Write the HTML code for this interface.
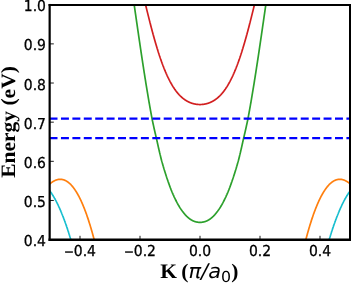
<!DOCTYPE html>
<html><head><meta charset="utf-8"><title>Band structure</title>
<style>
html,body{margin:0;padding:0;background:#fff;}
svg{display:block;}
text{text-rendering:geometricPrecision;}
.t{font-family:"DejaVu Sans","Liberation Sans",sans-serif;font-size:15.0px;fill:#000;stroke:#000;stroke-width:0.3px;}
.lab{font-family:"Liberation Serif","Times New Roman",serif;font-weight:bold;fill:#000;}
.m{font-family:"DejaVu Sans","Liberation Sans",sans-serif;font-style:italic;font-weight:normal;}
</style></head><body>
<svg width="351" height="283" viewBox="0 0 351 283">
<rect x="0" y="0" width="351" height="283" fill="#ffffff"/>
<defs><clipPath id="ax"><rect x="50.0" y="4.75" width="300.0" height="234.85"/></clipPath></defs>
<g clip-path="url(#ax)" fill="none" stroke-linejoin="round">
<path d="M144.50,0.38 L144.62,0.90 L144.75,1.41 L144.88,1.93 L145.00,2.44 L145.12,2.96 L145.25,3.47 L145.38,3.98 L145.50,4.50 L145.62,5.01 L145.75,5.52 L145.88,6.04 L146.00,6.55 L146.12,7.06 L146.25,7.57 L146.38,8.08 L146.50,8.59 L146.62,9.10 L146.75,9.61 L146.88,10.12 L147.00,10.62 L147.12,11.13 L147.25,11.64 L147.38,12.14 L147.50,12.65 L147.62,13.15 L147.75,13.66 L147.88,14.16 L148.00,14.66 L148.12,15.16 L148.25,15.66 L148.38,16.16 L148.50,16.66 L148.62,17.16 L148.75,17.66 L148.88,18.15 L149.00,18.65 L149.12,19.14 L149.25,19.64 L149.38,20.13 L149.50,20.62 L149.62,21.11 L149.75,21.60 L149.88,22.09 L150.00,22.58 L150.12,23.07 L150.25,23.55 L150.38,24.04 L150.50,24.52 L150.62,25.00 L150.75,25.48 L150.88,25.96 L151.00,26.44 L151.12,26.92 L151.25,27.40 L151.38,27.87 L151.50,28.35 L151.62,28.82 L151.75,29.29 L151.88,29.76 L152.00,30.23 L152.12,30.70 L152.25,31.17 L152.38,31.63 L152.50,32.10 L152.62,32.56 L152.75,33.02 L152.88,33.48 L153.00,33.94 L153.12,34.40 L153.25,34.85 L153.38,35.31 L153.50,35.76 L153.62,36.21 L153.75,36.66 L153.88,37.11 L154.00,37.56 L154.12,38.00 L154.25,38.45 L154.38,38.89 L154.50,39.33 L154.62,39.77 L154.75,40.21 L154.88,40.65 L155.00,41.09 L155.12,41.52 L155.25,41.95 L155.38,42.39 L155.50,42.82 L155.62,43.24 L155.75,43.67 L155.88,44.10 L156.00,44.52 L156.12,44.94 L156.25,45.36 L156.38,45.78 L156.50,46.20 L156.62,46.61 L156.75,47.03 L156.88,47.44 L157.00,47.85 L157.12,48.26 L157.25,48.67 L157.38,49.07 L157.50,49.48 L157.62,49.88 L157.75,50.28 L157.88,50.68 L158.00,51.08 L158.12,51.48 L158.25,51.87 L158.38,52.26 L158.50,52.65 L158.62,53.04 L158.75,53.43 L158.88,53.82 L159.00,54.20 L159.12,54.59 L159.25,54.97 L159.38,55.35 L159.50,55.72 L159.62,56.10 L159.75,56.48 L159.88,56.85 L160.00,57.22 L160.12,57.59 L160.25,57.96 L160.38,58.32 L160.50,58.69 L160.62,59.05 L160.75,59.41 L160.88,59.77 L161.00,60.13 L161.12,60.48 L161.25,60.84 L161.38,61.19 L161.50,61.54 L161.62,61.89 L161.75,62.23 L161.88,62.58 L162.00,62.92 L162.12,63.27 L162.25,63.61 L162.38,63.94 L162.50,64.28 L162.62,64.62 L162.75,64.95 L162.88,65.28 L163.00,65.61 L163.12,65.94 L163.25,66.27 L163.38,66.59 L163.50,66.91 L163.62,67.23 L163.75,67.55 L163.88,67.87 L164.00,68.19 L164.12,68.50 L164.25,68.81 L164.38,69.13 L164.50,69.44 L164.62,69.74 L164.75,70.05 L164.88,70.35 L165.00,70.66 L165.12,70.96 L165.25,71.26 L165.38,71.55 L165.50,71.85 L165.62,72.14 L165.75,72.43 L165.88,72.72 L166.00,73.01 L166.12,73.30 L166.25,73.59 L166.38,73.87 L166.50,74.15 L166.62,74.43 L166.75,74.71 L166.88,74.99 L167.00,75.26 L167.12,75.54 L167.25,75.81 L167.38,76.08 L167.50,76.35 L167.62,76.62 L167.75,76.88 L167.88,77.15 L168.00,77.41 L168.12,77.67 L168.25,77.93 L168.38,78.19 L168.50,78.44 L168.62,78.70 L168.75,78.95 L168.88,79.20 L169.00,79.45 L169.12,79.70 L169.25,79.94 L169.38,80.19 L169.50,80.43 L169.62,80.67 L169.75,80.91 L169.88,81.15 L170.00,81.39 L170.12,81.62 L170.25,81.85 L170.38,82.09 L170.50,82.32 L170.62,82.54 L170.75,82.77 L170.88,83.00 L171.00,83.22 L171.12,83.44 L171.25,83.67 L171.38,83.88 L171.50,84.10 L171.62,84.32 L171.75,84.53 L171.88,84.75 L172.00,84.96 L172.12,85.17 L172.25,85.38 L172.38,85.59 L172.50,85.79 L172.62,86.00 L172.75,86.20 L172.88,86.40 L173.00,86.60 L173.12,86.80 L173.25,87.00 L173.38,87.19 L173.50,87.39 L173.62,87.58 L173.75,87.77 L173.88,87.96 L174.00,88.15 L174.12,88.34 L174.25,88.52 L174.38,88.71 L174.50,88.89 L174.62,89.07 L174.75,89.25 L174.88,89.43 L175.00,89.61 L175.12,89.78 L175.25,89.96 L175.38,90.13 L175.50,90.30 L175.62,90.47 L175.75,90.64 L175.88,90.81 L176.00,90.98 L176.12,91.14 L176.25,91.31 L176.38,91.47 L176.50,91.63 L176.62,91.79 L176.75,91.95 L176.88,92.11 L177.00,92.26 L177.12,92.42 L177.25,92.57 L177.38,92.72 L177.50,92.87 L177.62,93.02 L177.75,93.17 L177.88,93.32 L178.00,93.46 L178.12,93.61 L178.25,93.75 L178.38,93.90 L178.50,94.04 L178.62,94.18 L178.75,94.32 L178.88,94.45 L179.00,94.59 L179.12,94.72 L179.25,94.86 L179.38,94.99 L179.50,95.12 L179.62,95.25 L179.75,95.38 L179.88,95.51 L180.00,95.64 L180.12,95.76 L180.25,95.89 L180.38,96.01 L180.50,96.13 L180.62,96.25 L180.75,96.37 L180.88,96.49 L181.00,96.61 L181.12,96.73 L181.25,96.84 L181.38,96.96 L181.50,97.07 L181.62,97.18 L181.75,97.30 L181.88,97.41 L182.00,97.52 L182.12,97.62 L182.25,97.73 L182.38,97.84 L182.50,97.94 L182.62,98.05 L182.75,98.15 L182.88,98.25 L183.00,98.35 L183.12,98.45 L183.25,98.55 L183.38,98.65 L183.50,98.75 L183.62,98.84 L183.75,98.94 L183.88,99.03 L184.00,99.12 L184.12,99.22 L184.25,99.31 L184.38,99.40 L184.50,99.49 L184.62,99.58 L184.75,99.66 L184.88,99.75 L185.00,99.84 L185.12,99.92 L185.25,100.00 L185.38,100.09 L185.50,100.17 L185.62,100.25 L185.75,100.33 L185.88,100.41 L186.00,100.49 L186.12,100.56 L186.25,100.64 L186.38,100.72 L186.50,100.79 L186.62,100.86 L186.75,100.94 L186.88,101.01 L187.00,101.08 L187.12,101.15 L187.25,101.22 L187.38,101.29 L187.50,101.36 L187.62,101.42 L187.75,101.49 L187.88,101.56 L188.00,101.62 L188.12,101.68 L188.25,101.75 L188.38,101.81 L188.50,101.87 L188.62,101.93 L188.75,101.99 L188.88,102.05 L189.00,102.11 L189.12,102.17 L189.25,102.22 L189.38,102.28 L189.50,102.33 L189.62,102.39 L189.75,102.44 L189.88,102.50 L190.00,102.55 L190.12,102.60 L190.25,102.65 L190.38,102.70 L190.50,102.75 L190.62,102.80 L190.75,102.84 L190.88,102.89 L191.00,102.94 L191.12,102.98 L191.25,103.03 L191.38,103.07 L191.50,103.12 L191.62,103.16 L191.75,103.20 L191.88,103.24 L192.00,103.28 L192.12,103.32 L192.25,103.36 L192.38,103.40 L192.50,103.44 L192.62,103.47 L192.75,103.51 L192.88,103.55 L193.00,103.58 L193.12,103.62 L193.25,103.65 L193.38,103.68 L193.50,103.72 L193.62,103.75 L193.75,103.78 L193.88,103.81 L194.00,103.84 L194.12,103.87 L194.25,103.90 L194.38,103.92 L194.50,103.95 L194.62,103.98 L194.75,104.00 L194.88,104.03 L195.00,104.05 L195.12,104.08 L195.25,104.10 L195.38,104.12 L195.50,104.15 L195.62,104.17 L195.75,104.19 L195.88,104.21 L196.00,104.23 L196.12,104.25 L196.25,104.26 L196.38,104.28 L196.50,104.30 L196.62,104.32 L196.75,104.33 L196.88,104.35 L197.00,104.36 L197.12,104.38 L197.25,104.39 L197.38,104.40 L197.50,104.41 L197.62,104.43 L197.75,104.44 L197.88,104.45 L198.00,104.46 L198.12,104.47 L198.25,104.48 L198.38,104.48 L198.50,104.49 L198.62,104.50 L198.75,104.50 L198.88,104.51 L199.00,104.52 L199.12,104.52 L199.25,104.52 L199.38,104.53 L199.50,104.53 L199.62,104.53 L199.75,104.53 L199.88,104.53 L200.00,104.53 L200.12,104.53 L200.25,104.53 L200.38,104.53 L200.50,104.53 L200.62,104.53 L200.75,104.52 L200.88,104.52 L201.00,104.52 L201.12,104.51 L201.25,104.50 L201.38,104.50 L201.50,104.49 L201.62,104.48 L201.75,104.48 L201.88,104.47 L202.00,104.46 L202.12,104.45 L202.25,104.44 L202.38,104.43 L202.50,104.41 L202.62,104.40 L202.75,104.39 L202.88,104.38 L203.00,104.36 L203.12,104.35 L203.25,104.33 L203.38,104.32 L203.50,104.30 L203.62,104.28 L203.75,104.26 L203.88,104.25 L204.00,104.23 L204.12,104.21 L204.25,104.19 L204.38,104.17 L204.50,104.15 L204.62,104.12 L204.75,104.10 L204.88,104.08 L205.00,104.05 L205.12,104.03 L205.25,104.00 L205.38,103.98 L205.50,103.95 L205.62,103.92 L205.75,103.90 L205.88,103.87 L206.00,103.84 L206.12,103.81 L206.25,103.78 L206.38,103.75 L206.50,103.72 L206.62,103.68 L206.75,103.65 L206.88,103.62 L207.00,103.58 L207.12,103.55 L207.25,103.51 L207.38,103.47 L207.50,103.44 L207.62,103.40 L207.75,103.36 L207.88,103.32 L208.00,103.28 L208.12,103.24 L208.25,103.20 L208.38,103.16 L208.50,103.12 L208.62,103.07 L208.75,103.03 L208.88,102.98 L209.00,102.94 L209.12,102.89 L209.25,102.84 L209.38,102.80 L209.50,102.75 L209.62,102.70 L209.75,102.65 L209.88,102.60 L210.00,102.55 L210.12,102.50 L210.25,102.44 L210.38,102.39 L210.50,102.33 L210.62,102.28 L210.75,102.22 L210.88,102.17 L211.00,102.11 L211.12,102.05 L211.25,101.99 L211.38,101.93 L211.50,101.87 L211.62,101.81 L211.75,101.75 L211.88,101.68 L212.00,101.62 L212.12,101.56 L212.25,101.49 L212.38,101.42 L212.50,101.36 L212.62,101.29 L212.75,101.22 L212.88,101.15 L213.00,101.08 L213.12,101.01 L213.25,100.94 L213.38,100.86 L213.50,100.79 L213.62,100.72 L213.75,100.64 L213.88,100.56 L214.00,100.49 L214.12,100.41 L214.25,100.33 L214.38,100.25 L214.50,100.17 L214.62,100.09 L214.75,100.00 L214.88,99.92 L215.00,99.84 L215.12,99.75 L215.25,99.66 L215.38,99.58 L215.50,99.49 L215.62,99.40 L215.75,99.31 L215.88,99.22 L216.00,99.12 L216.12,99.03 L216.25,98.94 L216.38,98.84 L216.50,98.75 L216.62,98.65 L216.75,98.55 L216.88,98.45 L217.00,98.35 L217.12,98.25 L217.25,98.15 L217.38,98.05 L217.50,97.94 L217.62,97.84 L217.75,97.73 L217.88,97.62 L218.00,97.52 L218.12,97.41 L218.25,97.30 L218.38,97.18 L218.50,97.07 L218.62,96.96 L218.75,96.84 L218.88,96.73 L219.00,96.61 L219.12,96.49 L219.25,96.37 L219.38,96.25 L219.50,96.13 L219.62,96.01 L219.75,95.89 L219.88,95.76 L220.00,95.64 L220.12,95.51 L220.25,95.38 L220.38,95.25 L220.50,95.12 L220.62,94.99 L220.75,94.86 L220.88,94.72 L221.00,94.59 L221.12,94.45 L221.25,94.32 L221.38,94.18 L221.50,94.04 L221.62,93.90 L221.75,93.75 L221.88,93.61 L222.00,93.46 L222.12,93.32 L222.25,93.17 L222.38,93.02 L222.50,92.87 L222.62,92.72 L222.75,92.57 L222.88,92.42 L223.00,92.26 L223.12,92.11 L223.25,91.95 L223.38,91.79 L223.50,91.63 L223.62,91.47 L223.75,91.31 L223.88,91.14 L224.00,90.98 L224.12,90.81 L224.25,90.64 L224.38,90.47 L224.50,90.30 L224.62,90.13 L224.75,89.96 L224.88,89.78 L225.00,89.61 L225.12,89.43 L225.25,89.25 L225.38,89.07 L225.50,88.89 L225.62,88.71 L225.75,88.52 L225.88,88.34 L226.00,88.15 L226.12,87.96 L226.25,87.77 L226.38,87.58 L226.50,87.39 L226.62,87.19 L226.75,87.00 L226.88,86.80 L227.00,86.60 L227.12,86.40 L227.25,86.20 L227.38,86.00 L227.50,85.79 L227.62,85.59 L227.75,85.38 L227.88,85.17 L228.00,84.96 L228.12,84.75 L228.25,84.53 L228.38,84.32 L228.50,84.10 L228.62,83.88 L228.75,83.67 L228.88,83.44 L229.00,83.22 L229.12,83.00 L229.25,82.77 L229.38,82.54 L229.50,82.32 L229.62,82.09 L229.75,81.85 L229.88,81.62 L230.00,81.39 L230.12,81.15 L230.25,80.91 L230.38,80.67 L230.50,80.43 L230.62,80.19 L230.75,79.94 L230.88,79.70 L231.00,79.45 L231.12,79.20 L231.25,78.95 L231.38,78.70 L231.50,78.44 L231.62,78.19 L231.75,77.93 L231.88,77.67 L232.00,77.41 L232.12,77.15 L232.25,76.88 L232.38,76.62 L232.50,76.35 L232.62,76.08 L232.75,75.81 L232.88,75.54 L233.00,75.26 L233.12,74.99 L233.25,74.71 L233.38,74.43 L233.50,74.15 L233.62,73.87 L233.75,73.59 L233.88,73.30 L234.00,73.01 L234.12,72.72 L234.25,72.43 L234.38,72.14 L234.50,71.85 L234.62,71.55 L234.75,71.26 L234.88,70.96 L235.00,70.66 L235.12,70.35 L235.25,70.05 L235.38,69.74 L235.50,69.44 L235.62,69.13 L235.75,68.81 L235.88,68.50 L236.00,68.19 L236.12,67.87 L236.25,67.55 L236.38,67.23 L236.50,66.91 L236.62,66.59 L236.75,66.27 L236.88,65.94 L237.00,65.61 L237.12,65.28 L237.25,64.95 L237.38,64.62 L237.50,64.28 L237.62,63.94 L237.75,63.61 L237.88,63.27 L238.00,62.92 L238.12,62.58 L238.25,62.23 L238.38,61.89 L238.50,61.54 L238.62,61.19 L238.75,60.84 L238.88,60.48 L239.00,60.13 L239.12,59.77 L239.25,59.41 L239.38,59.05 L239.50,58.69 L239.62,58.32 L239.75,57.96 L239.88,57.59 L240.00,57.22 L240.12,56.85 L240.25,56.48 L240.38,56.10 L240.50,55.72 L240.62,55.35 L240.75,54.97 L240.88,54.59 L241.00,54.20 L241.12,53.82 L241.25,53.43 L241.38,53.04 L241.50,52.65 L241.62,52.26 L241.75,51.87 L241.88,51.48 L242.00,51.08 L242.12,50.68 L242.25,50.28 L242.38,49.88 L242.50,49.48 L242.62,49.07 L242.75,48.67 L242.88,48.26 L243.00,47.85 L243.12,47.44 L243.25,47.03 L243.38,46.61 L243.50,46.20 L243.62,45.78 L243.75,45.36 L243.88,44.94 L244.00,44.52 L244.12,44.10 L244.25,43.67 L244.38,43.24 L244.50,42.82 L244.62,42.39 L244.75,41.95 L244.88,41.52 L245.00,41.09 L245.12,40.65 L245.25,40.21 L245.38,39.77 L245.50,39.33 L245.62,38.89 L245.75,38.45 L245.88,38.00 L246.00,37.56 L246.12,37.11 L246.25,36.66 L246.38,36.21 L246.50,35.76 L246.62,35.31 L246.75,34.85 L246.88,34.40 L247.00,33.94 L247.12,33.48 L247.25,33.02 L247.38,32.56 L247.50,32.10 L247.62,31.63 L247.75,31.17 L247.88,30.70 L248.00,30.23 L248.12,29.76 L248.25,29.29 L248.38,28.82 L248.50,28.35 L248.62,27.87 L248.75,27.40 L248.88,26.92 L249.00,26.44 L249.12,25.96 L249.25,25.48 L249.38,25.00 L249.50,24.52 L249.62,24.04 L249.75,23.55 L249.88,23.07 L250.00,22.58 L250.12,22.09 L250.25,21.60 L250.38,21.11 L250.50,20.62 L250.62,20.13 L250.75,19.64 L250.88,19.14 L251.00,18.65 L251.12,18.15 L251.25,17.66 L251.38,17.16 L251.50,16.66 L251.62,16.16 L251.75,15.66 L251.88,15.16 L252.00,14.66 L252.12,14.16 L252.25,13.66 L252.38,13.15 L252.50,12.65 L252.62,12.14 L252.75,11.64 L252.88,11.13 L253.00,10.62 L253.12,10.12 L253.25,9.61 L253.38,9.10 L253.50,8.59 L253.62,8.08 L253.75,7.57 L253.88,7.06 L254.00,6.55 L254.12,6.04 L254.25,5.52 L254.38,5.01 L254.50,4.50 L254.62,3.98 L254.75,3.47 L254.88,2.96 L255.00,2.44 L255.12,1.93 L255.25,1.41 L255.38,0.90 L255.50,0.38" stroke="#d21f20" stroke-width="1.7"/>
<path d="M133.50,0.07 L133.62,0.93 L133.75,1.79 L133.88,2.65 L134.00,3.51 L134.12,4.37 L134.25,5.23 L134.38,6.10 L134.50,6.96 L134.62,7.82 L134.75,8.68 L134.88,9.55 L135.00,10.41 L135.12,11.28 L135.25,12.14 L135.38,13.01 L135.50,13.87 L135.62,14.73 L135.75,15.60 L135.88,16.46 L136.00,17.33 L136.12,18.19 L136.25,19.06 L136.38,19.92 L136.50,20.79 L136.62,21.65 L136.75,22.51 L136.88,23.38 L137.00,24.24 L137.12,25.10 L137.25,25.96 L137.38,26.83 L137.50,27.69 L137.62,28.55 L137.75,29.41 L137.88,30.27 L138.00,31.13 L138.12,31.99 L138.25,32.85 L138.38,33.70 L138.50,34.56 L138.62,35.42 L138.75,36.27 L138.88,37.13 L139.00,37.98 L139.12,38.83 L139.25,39.69 L139.38,40.54 L139.50,41.39 L139.62,42.24 L139.75,43.09 L139.88,43.94 L140.00,44.78 L140.12,45.63 L140.25,46.47 L140.38,47.32 L140.50,48.16 L140.62,49.00 L140.75,49.84 L140.88,50.68 L141.00,51.52 L141.12,52.35 L141.25,53.19 L141.38,54.02 L141.50,54.86 L141.62,55.69 L141.75,56.52 L141.88,57.35 L142.00,58.18 L142.12,59.00 L142.25,59.83 L142.38,60.65 L142.50,61.47 L142.62,62.29 L142.75,63.11 L142.88,63.93 L143.00,64.74 L143.12,65.56 L143.25,66.37 L143.38,67.18 L143.50,67.99 L143.62,68.80 L143.75,69.61 L143.88,70.41 L144.00,71.21 L144.12,72.02 L144.25,72.82 L144.38,73.61 L144.50,74.41 L144.62,75.20 L144.75,76.00 L144.88,76.79 L145.00,77.58 L145.12,78.36 L145.25,79.15 L145.38,79.93 L145.50,80.71 L145.62,81.49 L145.75,82.27 L145.88,83.05 L146.00,83.82 L146.12,84.59 L146.25,85.36 L146.38,86.13 L146.50,86.90 L146.62,87.66 L146.75,88.42 L146.88,89.19 L147.00,89.94 L147.12,90.70 L147.25,91.45 L147.38,92.21 L147.50,92.96 L147.62,93.70 L147.75,94.45 L147.88,95.19 L148.00,95.93 L148.12,96.67 L148.25,97.41 L148.38,98.15 L148.50,98.88 L148.62,99.61 L148.75,100.34 L148.88,101.06 L149.00,101.79 L149.12,102.51 L149.25,103.23 L149.38,103.95 L149.50,104.66 L149.62,105.37 L149.75,106.09 L149.88,106.79 L150.00,107.50 L150.12,108.20 L150.25,108.91 L150.38,109.60 L150.50,110.30 L150.62,111.00 L150.75,111.69 L150.88,112.38 L151.00,113.07 L151.12,113.75 L151.25,114.43 L151.38,115.12 L151.50,115.79 L151.62,116.47 L151.75,117.14 L151.88,117.81 L152.00,118.48 L152.12,119.15 L152.25,119.81 L152.39,120.47 L152.53,121.13 L152.67,121.79 L152.81,122.44 L152.95,123.10 L153.09,123.75 L153.23,124.39 L153.38,125.04 L153.52,125.68 L153.66,126.32 L153.80,126.96 L153.94,127.59 L154.08,128.22 L154.22,128.85 L154.36,129.48 L154.50,130.11 L154.64,130.73 L154.78,131.35 L154.92,131.97 L155.06,132.58 L155.20,133.20 L155.35,133.81 L155.49,134.41 L155.63,135.02 L155.77,135.62 L155.91,136.22 L156.05,136.82 L156.19,137.42 L156.33,138.01 L156.46,138.60 L156.60,139.19 L156.74,139.77 L156.88,140.35 L157.00,140.94 L157.12,141.51 L157.25,142.09 L157.38,142.66 L157.50,143.23 L157.62,143.80 L157.75,144.37 L157.88,144.93 L158.00,145.49 L158.12,146.05 L158.25,146.60 L158.38,147.16 L158.50,147.71 L158.62,148.25 L158.75,148.80 L158.88,149.34 L159.00,149.88 L159.12,150.42 L159.25,150.96 L159.38,151.49 L159.50,152.02 L159.62,152.55 L159.75,153.07 L159.88,153.60 L160.00,154.12 L160.12,154.64 L160.25,155.15 L160.38,155.66 L160.50,156.18 L160.62,156.68 L160.75,157.19 L160.88,157.69 L161.00,158.19 L161.12,158.69 L161.25,159.19 L161.38,159.68 L161.50,160.17 L161.64,160.66 L161.77,161.15 L161.91,161.63 L162.04,162.11 L162.18,162.59 L162.31,163.07 L162.45,163.54 L162.58,164.01 L162.71,164.48 L162.85,164.95 L162.98,165.41 L163.12,165.88 L163.25,166.34 L163.39,166.79 L163.52,167.25 L163.65,167.70 L163.79,168.15 L163.92,168.60 L164.06,169.04 L164.19,169.48 L164.32,169.93 L164.46,170.36 L164.59,170.80 L164.72,171.23 L164.86,171.66 L164.99,172.09 L165.13,172.52 L165.26,172.94 L165.39,173.36 L165.53,173.78 L165.66,174.20 L165.79,174.61 L165.93,175.03 L166.06,175.44 L166.19,175.84 L166.32,176.25 L166.46,176.65 L166.59,177.05 L166.72,177.45 L166.86,177.85 L166.99,178.24 L167.12,178.63 L167.26,179.02 L167.39,179.41 L167.52,179.79 L167.65,180.18 L167.78,180.56 L167.91,180.93 L168.03,181.31 L168.16,181.68 L168.29,182.06 L168.42,182.42 L168.55,182.79 L168.67,183.16 L168.80,183.52 L168.93,183.88 L169.06,184.24 L169.18,184.59 L169.31,184.95 L169.44,185.30 L169.57,185.65 L169.69,185.99 L169.82,186.34 L169.95,186.68 L170.08,187.02 L170.21,187.36 L170.33,187.70 L170.46,188.03 L170.59,188.37 L170.72,188.70 L170.84,189.02 L170.97,189.35 L171.10,189.67 L171.22,190.00 L171.35,190.32 L171.48,190.63 L171.61,190.95 L171.73,191.26 L171.86,191.58 L171.99,191.88 L172.12,192.19 L172.24,192.50 L172.37,192.80 L172.50,193.10 L172.63,193.40 L172.75,193.70 L172.88,194.00 L173.01,194.29 L173.13,194.58 L173.26,194.87 L173.39,195.16 L173.52,195.44 L173.64,195.73 L173.77,196.01 L173.90,196.29 L174.02,196.57 L174.15,196.84 L174.28,197.12 L174.41,197.39 L174.53,197.66 L174.66,197.93 L174.79,198.19 L174.91,198.46 L175.04,198.72 L175.17,198.98 L175.29,199.24 L175.42,199.50 L175.55,199.75 L175.67,200.01 L175.80,200.26 L175.92,200.51 L176.05,200.76 L176.17,201.00 L176.29,201.25 L176.42,201.49 L176.54,201.73 L176.67,201.97 L176.79,202.21 L176.91,202.44 L177.04,202.68 L177.16,202.91 L177.29,203.14 L177.41,203.37 L177.54,203.59 L177.66,203.82 L177.78,204.04 L177.91,204.26 L178.03,204.48 L178.16,204.70 L178.28,204.92 L178.40,205.13 L178.53,205.35 L178.65,205.56 L178.78,205.77 L178.90,205.98 L179.02,206.18 L179.15,206.39 L179.27,206.59 L179.40,206.79 L179.52,206.99 L179.65,207.19 L179.77,207.39 L179.89,207.58 L180.02,207.78 L180.14,207.97 L180.27,208.16 L180.39,208.35 L180.51,208.54 L180.64,208.72 L180.76,208.91 L180.89,209.09 L181.01,209.27 L181.14,209.45 L181.26,209.63 L181.38,209.81 L181.51,209.98 L181.63,210.15 L181.76,210.33 L181.88,210.50 L182.01,210.67 L182.13,210.83 L182.25,211.00 L182.38,211.16 L182.50,211.33 L182.63,211.49 L182.75,211.65 L182.88,211.81 L183.00,211.97 L183.12,212.12 L183.23,212.28 L183.35,212.43 L183.46,212.58 L183.58,212.73 L183.69,212.88 L183.81,213.03 L183.92,213.18 L184.04,213.32 L184.15,213.47 L184.27,213.61 L184.38,213.75 L184.50,213.89 L184.61,214.03 L184.73,214.16 L184.85,214.30 L184.96,214.43 L185.08,214.57 L185.20,214.70 L185.31,214.83 L185.43,214.96 L185.54,215.08 L185.66,215.21 L185.78,215.34 L185.89,215.46 L186.01,215.58 L186.13,215.70 L186.25,215.82 L186.36,215.94 L186.48,216.06 L186.60,216.18 L186.71,216.29 L186.83,216.41 L186.95,216.52 L187.07,216.63 L187.18,216.74 L187.30,216.85 L187.42,216.96 L187.54,217.06 L187.66,217.17 L187.77,217.27 L187.89,217.38 L188.01,217.48 L188.13,217.58 L188.25,217.68 L188.36,217.78 L188.48,217.87 L188.60,217.97 L188.72,218.06 L188.83,218.16 L188.94,218.25 L189.05,218.34 L189.17,218.43 L189.28,218.52 L189.39,218.61 L189.51,218.70 L189.62,218.78 L189.73,218.87 L189.85,218.95 L189.96,219.03 L190.08,219.11 L190.19,219.19 L190.31,219.27 L190.42,219.35 L190.53,219.43 L190.65,219.50 L190.76,219.58 L190.88,219.65 L191.00,219.72 L191.11,219.80 L191.23,219.87 L191.34,219.94 L191.46,220.01 L191.57,220.07 L191.69,220.14 L191.81,220.20 L191.92,220.27 L192.04,220.33 L192.16,220.39 L192.27,220.46 L192.39,220.52 L192.51,220.57 L192.62,220.63 L192.74,220.69 L192.86,220.75 L192.98,220.80 L193.09,220.86 L193.21,220.91 L193.33,220.96 L193.45,221.01 L193.57,221.06 L193.68,221.11 L193.80,221.16 L193.92,221.21 L194.04,221.25 L194.16,221.30 L194.28,221.34 L194.39,221.39 L194.51,221.43 L194.63,221.47 L194.75,221.51 L194.87,221.55 L194.99,221.59 L195.11,221.63 L195.23,221.66 L195.35,221.70 L195.47,221.73 L195.59,221.77 L195.71,221.80 L195.83,221.83 L195.95,221.86 L196.07,221.89 L196.19,221.92 L196.31,221.95 L196.44,221.98 L196.56,222.00 L196.68,222.03 L196.80,222.05 L196.92,222.08 L197.04,222.10 L197.17,222.12 L197.29,222.14 L197.41,222.16 L197.53,222.18 L197.65,222.20 L197.78,222.21 L197.90,222.23 L198.02,222.24 L198.15,222.26 L198.27,222.27 L198.39,222.28 L198.51,222.30 L198.64,222.31 L198.76,222.32 L198.89,222.32 L199.01,222.33 L199.13,222.34 L199.26,222.35 L199.38,222.35 L199.51,222.35 L199.63,222.36 L199.76,222.36 L199.88,222.36 L200.00,222.36 L200.12,222.36 L200.24,222.36 L200.37,222.36 L200.49,222.35 L200.62,222.35 L200.74,222.35 L200.87,222.34 L200.99,222.33 L201.11,222.32 L201.24,222.32 L201.36,222.31 L201.49,222.30 L201.61,222.28 L201.73,222.27 L201.85,222.26 L201.98,222.24 L202.10,222.23 L202.22,222.21 L202.35,222.20 L202.47,222.18 L202.59,222.16 L202.71,222.14 L202.83,222.12 L202.96,222.10 L203.08,222.08 L203.20,222.05 L203.32,222.03 L203.44,222.00 L203.56,221.98 L203.69,221.95 L203.81,221.92 L203.93,221.89 L204.05,221.86 L204.17,221.83 L204.29,221.80 L204.41,221.77 L204.53,221.73 L204.65,221.70 L204.77,221.66 L204.89,221.63 L205.01,221.59 L205.13,221.55 L205.25,221.51 L205.37,221.47 L205.49,221.43 L205.61,221.39 L205.72,221.34 L205.84,221.30 L205.96,221.25 L206.08,221.21 L206.20,221.16 L206.32,221.11 L206.43,221.06 L206.55,221.01 L206.67,220.96 L206.79,220.91 L206.91,220.86 L207.02,220.80 L207.14,220.75 L207.26,220.69 L207.38,220.63 L207.49,220.57 L207.61,220.52 L207.73,220.46 L207.84,220.39 L207.96,220.33 L208.08,220.27 L208.19,220.20 L208.31,220.14 L208.43,220.07 L208.54,220.01 L208.66,219.94 L208.77,219.87 L208.89,219.80 L209.00,219.72 L209.12,219.65 L209.24,219.58 L209.35,219.50 L209.47,219.43 L209.58,219.35 L209.69,219.27 L209.81,219.19 L209.92,219.11 L210.04,219.03 L210.15,218.95 L210.27,218.87 L210.38,218.78 L210.49,218.70 L210.61,218.61 L210.72,218.52 L210.83,218.43 L210.95,218.34 L211.06,218.25 L211.17,218.16 L211.28,218.06 L211.40,217.97 L211.52,217.87 L211.64,217.78 L211.75,217.68 L211.87,217.58 L211.99,217.48 L212.11,217.38 L212.23,217.27 L212.34,217.17 L212.46,217.06 L212.58,216.96 L212.70,216.85 L212.82,216.74 L212.93,216.63 L213.05,216.52 L213.17,216.41 L213.29,216.29 L213.40,216.18 L213.52,216.06 L213.64,215.94 L213.75,215.82 L213.87,215.70 L213.99,215.58 L214.11,215.46 L214.22,215.34 L214.34,215.21 L214.46,215.08 L214.57,214.96 L214.69,214.83 L214.80,214.70 L214.92,214.57 L215.04,214.43 L215.15,214.30 L215.27,214.16 L215.39,214.03 L215.50,213.89 L215.62,213.75 L215.73,213.61 L215.85,213.47 L215.96,213.32 L216.08,213.18 L216.19,213.03 L216.31,212.88 L216.42,212.73 L216.54,212.58 L216.65,212.43 L216.77,212.28 L216.88,212.12 L217.00,211.97 L217.12,211.81 L217.25,211.65 L217.37,211.49 L217.50,211.33 L217.62,211.16 L217.75,211.00 L217.87,210.83 L217.99,210.67 L218.12,210.50 L218.24,210.33 L218.37,210.15 L218.49,209.98 L218.62,209.81 L218.74,209.63 L218.86,209.45 L218.99,209.27 L219.11,209.09 L219.24,208.91 L219.36,208.72 L219.49,208.54 L219.61,208.35 L219.73,208.16 L219.86,207.97 L219.98,207.78 L220.11,207.58 L220.23,207.39 L220.35,207.19 L220.48,206.99 L220.60,206.79 L220.73,206.59 L220.85,206.39 L220.98,206.18 L221.10,205.98 L221.22,205.77 L221.35,205.56 L221.47,205.35 L221.60,205.13 L221.72,204.92 L221.84,204.70 L221.97,204.48 L222.09,204.26 L222.22,204.04 L222.34,203.82 L222.46,203.59 L222.59,203.37 L222.71,203.14 L222.84,202.91 L222.96,202.68 L223.09,202.44 L223.21,202.21 L223.33,201.97 L223.46,201.73 L223.58,201.49 L223.71,201.25 L223.83,201.00 L223.95,200.76 L224.08,200.51 L224.20,200.26 L224.33,200.01 L224.45,199.75 L224.58,199.50 L224.71,199.24 L224.83,198.98 L224.96,198.72 L225.09,198.46 L225.21,198.19 L225.34,197.93 L225.47,197.66 L225.59,197.39 L225.72,197.12 L225.85,196.84 L225.98,196.57 L226.10,196.29 L226.23,196.01 L226.36,195.73 L226.48,195.44 L226.61,195.16 L226.74,194.87 L226.87,194.58 L226.99,194.29 L227.12,194.00 L227.25,193.70 L227.37,193.40 L227.50,193.10 L227.63,192.80 L227.76,192.50 L227.88,192.19 L228.01,191.88 L228.14,191.58 L228.27,191.26 L228.39,190.95 L228.52,190.63 L228.65,190.32 L228.78,190.00 L228.90,189.67 L229.03,189.35 L229.16,189.02 L229.28,188.70 L229.41,188.37 L229.54,188.03 L229.67,187.70 L229.79,187.36 L229.92,187.02 L230.05,186.68 L230.18,186.34 L230.31,185.99 L230.43,185.65 L230.56,185.30 L230.69,184.95 L230.82,184.59 L230.94,184.24 L231.07,183.88 L231.20,183.52 L231.33,183.16 L231.45,182.79 L231.58,182.42 L231.71,182.06 L231.84,181.68 L231.97,181.31 L232.09,180.93 L232.22,180.56 L232.35,180.18 L232.48,179.79 L232.61,179.41 L232.74,179.02 L232.88,178.63 L233.01,178.24 L233.14,177.85 L233.28,177.45 L233.41,177.05 L233.54,176.65 L233.68,176.25 L233.81,175.84 L233.94,175.44 L234.07,175.03 L234.21,174.61 L234.34,174.20 L234.47,173.78 L234.61,173.36 L234.74,172.94 L234.87,172.52 L235.01,172.09 L235.14,171.66 L235.28,171.23 L235.41,170.80 L235.54,170.36 L235.68,169.93 L235.81,169.48 L235.94,169.04 L236.08,168.60 L236.21,168.15 L236.35,167.70 L236.48,167.25 L236.61,166.79 L236.75,166.34 L236.88,165.88 L237.02,165.41 L237.15,164.95 L237.29,164.48 L237.42,164.01 L237.55,163.54 L237.69,163.07 L237.82,162.59 L237.96,162.11 L238.09,161.63 L238.23,161.15 L238.36,160.66 L238.50,160.17 L238.62,159.68 L238.75,159.19 L238.88,158.69 L239.00,158.19 L239.12,157.69 L239.25,157.19 L239.38,156.68 L239.50,156.18 L239.62,155.66 L239.75,155.15 L239.88,154.64 L240.00,154.12 L240.12,153.60 L240.25,153.07 L240.38,152.55 L240.50,152.02 L240.62,151.49 L240.75,150.96 L240.88,150.42 L241.00,149.88 L241.12,149.34 L241.25,148.80 L241.38,148.25 L241.50,147.71 L241.62,147.16 L241.75,146.60 L241.88,146.05 L242.00,145.49 L242.12,144.93 L242.25,144.37 L242.38,143.80 L242.50,143.23 L242.62,142.66 L242.75,142.09 L242.88,141.51 L243.00,140.94 L243.12,140.35 L243.26,139.77 L243.40,139.19 L243.54,138.60 L243.67,138.01 L243.81,137.42 L243.95,136.82 L244.09,136.22 L244.23,135.62 L244.37,135.02 L244.51,134.41 L244.65,133.81 L244.80,133.20 L244.94,132.58 L245.08,131.97 L245.22,131.35 L245.36,130.73 L245.50,130.11 L245.64,129.48 L245.78,128.85 L245.92,128.22 L246.06,127.59 L246.20,126.96 L246.34,126.32 L246.48,125.68 L246.62,125.04 L246.77,124.39 L246.91,123.75 L247.05,123.10 L247.19,122.44 L247.33,121.79 L247.47,121.13 L247.61,120.47 L247.75,119.81 L247.88,119.15 L248.00,118.48 L248.12,117.81 L248.25,117.14 L248.38,116.47 L248.50,115.79 L248.62,115.12 L248.75,114.43 L248.88,113.75 L249.00,113.07 L249.12,112.38 L249.25,111.69 L249.38,111.00 L249.50,110.30 L249.62,109.60 L249.75,108.91 L249.88,108.20 L250.00,107.50 L250.12,106.79 L250.25,106.09 L250.38,105.37 L250.50,104.66 L250.62,103.95 L250.75,103.23 L250.88,102.51 L251.00,101.79 L251.12,101.06 L251.25,100.34 L251.38,99.61 L251.50,98.88 L251.62,98.15 L251.75,97.41 L251.88,96.67 L252.00,95.93 L252.12,95.19 L252.25,94.45 L252.38,93.70 L252.50,92.96 L252.62,92.21 L252.75,91.45 L252.88,90.70 L253.00,89.94 L253.12,89.19 L253.25,88.42 L253.38,87.66 L253.50,86.90 L253.62,86.13 L253.75,85.36 L253.88,84.59 L254.00,83.82 L254.12,83.05 L254.25,82.27 L254.38,81.49 L254.50,80.71 L254.62,79.93 L254.75,79.15 L254.88,78.36 L255.00,77.58 L255.12,76.79 L255.25,76.00 L255.38,75.20 L255.50,74.41 L255.62,73.61 L255.75,72.82 L255.88,72.02 L256.00,71.21 L256.12,70.41 L256.25,69.61 L256.38,68.80 L256.50,67.99 L256.62,67.18 L256.75,66.37 L256.88,65.56 L257.00,64.74 L257.12,63.93 L257.25,63.11 L257.38,62.29 L257.50,61.47 L257.62,60.65 L257.75,59.83 L257.88,59.00 L258.00,58.18 L258.12,57.35 L258.25,56.52 L258.38,55.69 L258.50,54.86 L258.62,54.02 L258.75,53.19 L258.88,52.35 L259.00,51.52 L259.12,50.68 L259.25,49.84 L259.38,49.00 L259.50,48.16 L259.62,47.32 L259.75,46.47 L259.88,45.63 L260.00,44.78 L260.12,43.94 L260.25,43.09 L260.38,42.24 L260.50,41.39 L260.62,40.54 L260.75,39.69 L260.88,38.83 L261.00,37.98 L261.12,37.13 L261.25,36.27 L261.38,35.42 L261.50,34.56 L261.62,33.70 L261.75,32.85 L261.88,31.99 L262.00,31.13 L262.12,30.27 L262.25,29.41 L262.38,28.55 L262.50,27.69 L262.62,26.83 L262.75,25.96 L262.88,25.10 L263.00,24.24 L263.12,23.38 L263.25,22.51 L263.38,21.65 L263.50,20.79 L263.62,19.92 L263.75,19.06 L263.88,18.19 L264.00,17.33 L264.12,16.46 L264.25,15.60 L264.38,14.73 L264.50,13.87 L264.62,13.01 L264.75,12.14 L264.88,11.28 L265.00,10.41 L265.12,9.55 L265.25,8.68 L265.38,7.82 L265.50,6.96 L265.62,6.10 L265.75,5.23 L265.88,4.37 L266.00,3.51 L266.12,2.65 L266.25,1.79 L266.38,0.93 L266.50,0.07" stroke="#2ca02c" stroke-width="1.7"/>
<path d="M48.00,185.59 L48.25,185.35 L48.49,185.11 L48.74,184.88 L48.98,184.65 L49.23,184.42 L49.48,184.20 L49.72,183.99 L49.97,183.77 L50.22,183.57 L50.46,183.36 L50.71,183.17 L50.95,182.97 L51.20,182.79 L51.45,182.60 L51.69,182.42 L51.94,182.25 L52.19,182.08 L52.43,181.92 L52.68,181.76 L52.92,181.60 L53.17,181.45 L53.42,181.31 L53.66,181.17 L53.91,181.03 L54.16,180.90 L54.40,180.78 L54.65,180.66 L54.89,180.54 L55.14,180.43 L55.39,180.32 L55.63,180.22 L55.88,180.13 L56.13,180.04 L56.37,179.95 L56.62,179.87 L56.86,179.80 L57.11,179.73 L57.36,179.67 L57.60,179.61 L57.85,179.55 L58.10,179.50 L58.34,179.46 L58.59,179.42 L58.83,179.39 L59.08,179.36 L59.33,179.34 L59.57,179.33 L59.82,179.31 L60.07,179.31 L60.31,179.31 L60.56,179.31 L60.80,179.32 L61.05,179.34 L61.30,179.36 L61.54,179.39 L61.79,179.42 L62.04,179.46 L62.28,179.50 L62.53,179.55 L62.77,179.61 L63.02,179.67 L63.27,179.73 L63.51,179.81 L63.76,179.88 L64.01,179.97 L64.25,180.06 L64.50,180.15 L64.74,180.25 L64.99,180.36 L65.24,180.47 L65.48,180.59 L65.73,180.71 L65.97,180.84 L66.22,180.98 L66.47,181.12 L66.71,181.27 L66.96,181.42 L67.21,181.58 L67.45,181.75 L67.70,181.92 L67.94,182.10 L68.19,182.28 L68.44,182.47 L68.68,182.67 L68.93,182.87 L69.18,183.08 L69.42,183.29 L69.67,183.51 L69.91,183.74 L70.16,183.97 L70.41,184.21 L70.65,184.46 L70.90,184.71 L71.15,184.97 L71.39,185.23 L71.64,185.50 L71.88,185.78 L72.13,186.06 L72.38,186.35 L72.62,186.65 L72.87,186.95 L73.12,187.26 L73.36,187.58 L73.61,187.90 L73.85,188.23 L74.10,188.56 L74.35,188.90 L74.59,189.25 L74.84,189.61 L75.09,189.97 L75.33,190.34 L75.58,190.71 L75.82,191.09 L76.07,191.48 L76.32,191.88 L76.56,192.28 L76.81,192.69 L77.06,193.10 L77.30,193.52 L77.55,193.95 L77.79,194.39 L78.04,194.83 L78.29,195.28 L78.53,195.74 L78.78,196.20 L79.03,196.67 L79.27,197.15 L79.52,197.63 L79.76,198.12 L80.01,198.62 L80.26,199.13 L80.50,199.64 L80.75,200.16 L80.99,200.68 L81.24,201.22 L81.49,201.76 L81.73,202.30 L81.98,202.86 L82.23,203.42 L82.47,203.99 L82.72,204.57 L82.96,205.15 L83.21,205.74 L83.46,206.34 L83.70,206.95 L83.95,207.56 L84.20,208.18 L84.44,208.81 L84.69,209.44 L84.93,210.08 L85.18,210.73 L85.43,211.39 L85.67,212.05 L85.92,212.73 L86.17,213.41 L86.41,214.09 L86.66,214.79 L86.90,215.49 L87.15,216.20 L87.40,216.92 L87.64,217.64 L87.89,218.38 L88.14,219.12 L88.38,219.86 L88.63,220.62 L88.87,221.38 L89.12,222.15 L89.37,222.93 L89.61,223.72 L89.86,224.51 L90.11,225.32 L90.35,226.13 L90.60,226.94 L90.84,227.77 L91.09,228.60 L91.34,229.45 L91.58,230.30 L91.83,231.15 L92.08,232.02 L92.32,232.89 L92.57,233.77 L92.81,234.66 L93.06,235.56 L93.31,236.47 L93.55,237.38 L93.80,238.30 L94.05,239.23 L94.29,240.17 L94.54,241.12 L94.78,242.07 L95.03,243.04 L95.28,244.01 L95.52,244.99 L95.77,245.97 L96.02,246.97 L96.26,247.97 L96.51,248.99 L96.75,250.01 L97.00,251.04" stroke="#ff7f0e" stroke-width="1.7"/>
<path d="M352.00,185.59 L351.75,185.35 L351.51,185.11 L351.26,184.88 L351.02,184.65 L350.77,184.42 L350.52,184.20 L350.28,183.99 L350.03,183.77 L349.78,183.57 L349.54,183.36 L349.29,183.17 L349.05,182.97 L348.80,182.79 L348.55,182.60 L348.31,182.42 L348.06,182.25 L347.81,182.08 L347.57,181.92 L347.32,181.76 L347.08,181.60 L346.83,181.45 L346.58,181.31 L346.34,181.17 L346.09,181.03 L345.84,180.90 L345.60,180.78 L345.35,180.66 L345.11,180.54 L344.86,180.43 L344.61,180.32 L344.37,180.22 L344.12,180.13 L343.87,180.04 L343.63,179.95 L343.38,179.87 L343.14,179.80 L342.89,179.73 L342.64,179.67 L342.40,179.61 L342.15,179.55 L341.90,179.50 L341.66,179.46 L341.41,179.42 L341.17,179.39 L340.92,179.36 L340.67,179.34 L340.43,179.33 L340.18,179.31 L339.93,179.31 L339.69,179.31 L339.44,179.31 L339.20,179.32 L338.95,179.34 L338.70,179.36 L338.46,179.39 L338.21,179.42 L337.96,179.46 L337.72,179.50 L337.47,179.55 L337.23,179.61 L336.98,179.67 L336.73,179.73 L336.49,179.81 L336.24,179.88 L335.99,179.97 L335.75,180.06 L335.50,180.15 L335.26,180.25 L335.01,180.36 L334.76,180.47 L334.52,180.59 L334.27,180.71 L334.03,180.84 L333.78,180.98 L333.53,181.12 L333.29,181.27 L333.04,181.42 L332.79,181.58 L332.55,181.75 L332.30,181.92 L332.06,182.10 L331.81,182.28 L331.56,182.47 L331.32,182.67 L331.07,182.87 L330.82,183.08 L330.58,183.29 L330.33,183.51 L330.09,183.74 L329.84,183.97 L329.59,184.21 L329.35,184.46 L329.10,184.71 L328.85,184.97 L328.61,185.23 L328.36,185.50 L328.12,185.78 L327.87,186.06 L327.62,186.35 L327.38,186.65 L327.13,186.95 L326.88,187.26 L326.64,187.58 L326.39,187.90 L326.15,188.23 L325.90,188.56 L325.65,188.90 L325.41,189.25 L325.16,189.61 L324.91,189.97 L324.67,190.34 L324.42,190.71 L324.18,191.09 L323.93,191.48 L323.68,191.88 L323.44,192.28 L323.19,192.69 L322.94,193.10 L322.70,193.52 L322.45,193.95 L322.21,194.39 L321.96,194.83 L321.71,195.28 L321.47,195.74 L321.22,196.20 L320.97,196.67 L320.73,197.15 L320.48,197.63 L320.24,198.12 L319.99,198.62 L319.74,199.13 L319.50,199.64 L319.25,200.16 L319.01,200.68 L318.76,201.22 L318.51,201.76 L318.27,202.30 L318.02,202.86 L317.77,203.42 L317.53,203.99 L317.28,204.57 L317.04,205.15 L316.79,205.74 L316.54,206.34 L316.30,206.95 L316.05,207.56 L315.80,208.18 L315.56,208.81 L315.31,209.44 L315.07,210.08 L314.82,210.73 L314.57,211.39 L314.33,212.05 L314.08,212.73 L313.83,213.41 L313.59,214.09 L313.34,214.79 L313.10,215.49 L312.85,216.20 L312.60,216.92 L312.36,217.64 L312.11,218.38 L311.86,219.12 L311.62,219.86 L311.37,220.62 L311.13,221.38 L310.88,222.15 L310.63,222.93 L310.39,223.72 L310.14,224.51 L309.89,225.32 L309.65,226.13 L309.40,226.94 L309.16,227.77 L308.91,228.60 L308.66,229.45 L308.42,230.30 L308.17,231.15 L307.92,232.02 L307.68,232.89 L307.43,233.77 L307.19,234.66 L306.94,235.56 L306.69,236.47 L306.45,237.38 L306.20,238.30 L305.95,239.23 L305.71,240.17 L305.46,241.12 L305.22,242.07 L304.97,243.04 L304.72,244.01 L304.48,244.99 L304.23,245.97 L303.98,246.97 L303.74,247.97 L303.49,248.99 L303.25,250.01 L303.00,251.04" stroke="#ff7f0e" stroke-width="1.7"/>
<path d="M48.00,188.73 L48.13,188.87 L48.25,189.02 L48.38,189.16 L48.50,189.31 L48.63,189.46 L48.75,189.61 L48.88,189.76 L49.01,189.91 L49.13,190.07 L49.26,190.23 L49.38,190.38 L49.51,190.54 L49.63,190.70 L49.76,190.87 L49.88,191.03 L50.01,191.20 L50.14,191.36 L50.26,191.53 L50.39,191.70 L50.51,191.87 L50.64,192.05 L50.76,192.22 L50.89,192.40 L51.02,192.57 L51.14,192.75 L51.27,192.93 L51.39,193.12 L51.52,193.30 L51.64,193.49 L51.77,193.67 L51.89,193.86 L52.02,194.05 L52.15,194.24 L52.27,194.44 L52.40,194.63 L52.52,194.83 L52.65,195.02 L52.77,195.22 L52.90,195.42 L53.03,195.62 L53.15,195.83 L53.28,196.03 L53.40,196.24 L53.53,196.45 L53.65,196.66 L53.78,196.87 L53.90,197.08 L54.03,197.30 L54.16,197.51 L54.28,197.73 L54.41,197.95 L54.53,198.17 L54.66,198.39 L54.78,198.61 L54.91,198.84 L55.04,199.06 L55.16,199.29 L55.29,199.52 L55.41,199.75 L55.54,199.98 L55.66,200.22 L55.79,200.45 L55.91,200.69 L56.04,200.93 L56.17,201.17 L56.29,201.41 L56.42,201.65 L56.54,201.90 L56.67,202.14 L56.79,202.39 L56.92,202.64 L57.05,202.89 L57.17,203.14 L57.30,203.40 L57.42,203.65 L57.55,203.91 L57.67,204.17 L57.80,204.43 L57.92,204.69 L58.05,204.95 L58.18,205.21 L58.30,205.48 L58.43,205.75 L58.55,206.02 L58.68,206.29 L58.80,206.56 L58.93,206.83 L59.06,207.11 L59.18,207.38 L59.31,207.66 L59.43,207.94 L59.56,208.22 L59.68,208.50 L59.81,208.79 L59.93,209.07 L60.06,209.36 L60.19,209.65 L60.31,209.94 L60.44,210.23 L60.56,210.52 L60.69,210.82 L60.81,211.11 L60.94,211.41 L61.07,211.71 L61.19,212.01 L61.32,212.31 L61.44,212.62 L61.57,212.92 L61.69,213.23 L61.82,213.54 L61.94,213.85 L62.07,214.16 L62.20,214.47 L62.32,214.79 L62.45,215.10 L62.57,215.42 L62.70,215.74 L62.82,216.06 L62.95,216.38 L63.08,216.71 L63.20,217.03 L63.33,217.36 L63.45,217.68 L63.58,218.01 L63.70,218.35 L63.83,218.68 L63.95,219.01 L64.08,219.35 L64.21,219.69 L64.33,220.02 L64.46,220.36 L64.58,220.71 L64.71,221.05 L64.83,221.39 L64.96,221.74 L65.09,222.09 L65.21,222.44 L65.34,222.79 L65.46,223.14 L65.59,223.49 L65.71,223.85 L65.84,224.21 L65.96,224.56 L66.09,224.92 L66.22,225.29 L66.34,225.65 L66.47,226.01 L66.59,226.38 L66.72,226.75 L66.84,227.12 L66.97,227.49 L67.10,227.86 L67.22,228.23 L67.35,228.61 L67.47,228.98 L67.60,229.36 L67.72,229.74 L67.85,230.12 L67.97,230.51 L68.10,230.89 L68.23,231.28 L68.35,231.66 L68.48,232.05 L68.60,232.44 L68.73,232.83 L68.85,233.23 L68.98,233.62 L69.11,234.02 L69.23,234.42 L69.36,234.82 L69.48,235.22 L69.61,235.62 L69.73,236.02 L69.86,236.43 L69.98,236.84 L70.11,237.25 L70.24,237.66 L70.36,238.07 L70.49,238.48 L70.61,238.89 L70.74,239.31 L70.86,239.73 L70.99,240.15 L71.12,240.57 L71.24,240.99 L71.37,241.41 L71.49,241.84 L71.62,242.27 L71.74,242.69 L71.87,243.12 L71.99,243.56 L72.12,243.99 L72.25,244.42 L72.37,244.86 L72.50,245.30 L72.62,245.74 L72.75,246.18 L72.87,246.62 L73.00,247.06" stroke="#17becf" stroke-width="1.7"/>
<path d="M352.00,188.73 L351.87,188.87 L351.75,189.02 L351.62,189.16 L351.50,189.31 L351.37,189.46 L351.25,189.61 L351.12,189.76 L350.99,189.91 L350.87,190.07 L350.74,190.23 L350.62,190.38 L350.49,190.54 L350.37,190.70 L350.24,190.87 L350.12,191.03 L349.99,191.20 L349.86,191.36 L349.74,191.53 L349.61,191.70 L349.49,191.87 L349.36,192.05 L349.24,192.22 L349.11,192.40 L348.98,192.57 L348.86,192.75 L348.73,192.93 L348.61,193.12 L348.48,193.30 L348.36,193.49 L348.23,193.67 L348.11,193.86 L347.98,194.05 L347.85,194.24 L347.73,194.44 L347.60,194.63 L347.48,194.83 L347.35,195.02 L347.23,195.22 L347.10,195.42 L346.97,195.62 L346.85,195.83 L346.72,196.03 L346.60,196.24 L346.47,196.45 L346.35,196.66 L346.22,196.87 L346.10,197.08 L345.97,197.30 L345.84,197.51 L345.72,197.73 L345.59,197.95 L345.47,198.17 L345.34,198.39 L345.22,198.61 L345.09,198.84 L344.96,199.06 L344.84,199.29 L344.71,199.52 L344.59,199.75 L344.46,199.98 L344.34,200.22 L344.21,200.45 L344.09,200.69 L343.96,200.93 L343.83,201.17 L343.71,201.41 L343.58,201.65 L343.46,201.90 L343.33,202.14 L343.21,202.39 L343.08,202.64 L342.95,202.89 L342.83,203.14 L342.70,203.40 L342.58,203.65 L342.45,203.91 L342.33,204.17 L342.20,204.43 L342.08,204.69 L341.95,204.95 L341.82,205.21 L341.70,205.48 L341.57,205.75 L341.45,206.02 L341.32,206.29 L341.20,206.56 L341.07,206.83 L340.94,207.11 L340.82,207.38 L340.69,207.66 L340.57,207.94 L340.44,208.22 L340.32,208.50 L340.19,208.79 L340.07,209.07 L339.94,209.36 L339.81,209.65 L339.69,209.94 L339.56,210.23 L339.44,210.52 L339.31,210.82 L339.19,211.11 L339.06,211.41 L338.93,211.71 L338.81,212.01 L338.68,212.31 L338.56,212.62 L338.43,212.92 L338.31,213.23 L338.18,213.54 L338.06,213.85 L337.93,214.16 L337.80,214.47 L337.68,214.79 L337.55,215.10 L337.43,215.42 L337.30,215.74 L337.18,216.06 L337.05,216.38 L336.92,216.71 L336.80,217.03 L336.67,217.36 L336.55,217.68 L336.42,218.01 L336.30,218.35 L336.17,218.68 L336.05,219.01 L335.92,219.35 L335.79,219.69 L335.67,220.02 L335.54,220.36 L335.42,220.71 L335.29,221.05 L335.17,221.39 L335.04,221.74 L334.91,222.09 L334.79,222.44 L334.66,222.79 L334.54,223.14 L334.41,223.49 L334.29,223.85 L334.16,224.21 L334.04,224.56 L333.91,224.92 L333.78,225.29 L333.66,225.65 L333.53,226.01 L333.41,226.38 L333.28,226.75 L333.16,227.12 L333.03,227.49 L332.90,227.86 L332.78,228.23 L332.65,228.61 L332.53,228.98 L332.40,229.36 L332.28,229.74 L332.15,230.12 L332.03,230.51 L331.90,230.89 L331.77,231.28 L331.65,231.66 L331.52,232.05 L331.40,232.44 L331.27,232.83 L331.15,233.23 L331.02,233.62 L330.89,234.02 L330.77,234.42 L330.64,234.82 L330.52,235.22 L330.39,235.62 L330.27,236.02 L330.14,236.43 L330.02,236.84 L329.89,237.25 L329.76,237.66 L329.64,238.07 L329.51,238.48 L329.39,238.89 L329.26,239.31 L329.14,239.73 L329.01,240.15 L328.88,240.57 L328.76,240.99 L328.63,241.41 L328.51,241.84 L328.38,242.27 L328.26,242.69 L328.13,243.12 L328.01,243.56 L327.88,243.99 L327.75,244.42 L327.63,244.86 L327.50,245.30 L327.38,245.74 L327.25,246.18 L327.13,246.62 L327.00,247.06" stroke="#17becf" stroke-width="1.7"/>
<path d="M49.54,118.6 H350.0" stroke="#0000ff" stroke-width="2.16" stroke-dasharray="7.96 3.458"/>
<path d="M49.54,138.1 H350.0" stroke="#0000ff" stroke-width="2.16" stroke-dasharray="7.96 3.458"/>
</g>

<g stroke="#000" stroke-width="0.9">
<line x1="50.0" y1="4.75" x2="53.8" y2="4.75"/>
<line x1="50.0" y1="43.89" x2="53.8" y2="43.89"/>
<line x1="50.0" y1="83.03" x2="53.8" y2="83.03"/>
<line x1="50.0" y1="122.17" x2="53.8" y2="122.17"/>
<line x1="50.0" y1="161.32" x2="53.8" y2="161.32"/>
<line x1="50.0" y1="200.46" x2="53.8" y2="200.46"/>
<line x1="50.0" y1="239.60" x2="53.8" y2="239.60"/>
<line x1="80.0" y1="239.6" x2="80.0" y2="235.79999999999998"/>
<line x1="140.0" y1="239.6" x2="140.0" y2="235.79999999999998"/>
<line x1="200.0" y1="239.6" x2="200.0" y2="235.79999999999998"/>
<line x1="260.0" y1="239.6" x2="260.0" y2="235.79999999999998"/>
<line x1="320.0" y1="239.6" x2="320.0" y2="235.79999999999998"/>
</g>
<g stroke="#000" stroke-linecap="square" fill="none">
<line x1="49.65" y1="5.05" x2="350.0" y2="5.05" stroke-width="2.1"/>
<line x1="49.65" y1="239.75" x2="350.0" y2="239.75" stroke-width="2.3"/>
<line x1="49.65" y1="5.05" x2="49.65" y2="239.75" stroke-width="2.2"/>
<line x1="350.0" y1="5.05" x2="350.0" y2="239.75" stroke-width="2.0"/>
</g>
<text class="t" transform="translate(46.0,11.25) scale(0.93,1)" text-anchor="end">1.0</text>
<text class="t" transform="translate(46.0,50.39) scale(0.93,1)" text-anchor="end">0.9</text>
<text class="t" transform="translate(46.0,89.53) scale(0.93,1)" text-anchor="end">0.8</text>
<text class="t" transform="translate(46.0,128.68) scale(0.93,1)" text-anchor="end">0.7</text>
<text class="t" transform="translate(46.0,167.82) scale(0.93,1)" text-anchor="end">0.6</text>
<text class="t" transform="translate(46.0,206.96) scale(0.93,1)" text-anchor="end">0.5</text>
<text class="t" transform="translate(46.0,246.10) scale(0.93,1)" text-anchor="end">0.4</text>
<text class="t" transform="translate(80,256.2) scale(0.93,1)" text-anchor="middle"><tspan font-size="12.8" dy="-0.70">−</tspan><tspan dy="0.70" dx="-0.3">0.4</tspan></text>
<text class="t" transform="translate(140,256.2) scale(0.93,1)" text-anchor="middle"><tspan font-size="12.8" dy="-0.70">−</tspan><tspan dy="0.70" dx="-0.3">0.2</tspan></text>
<text class="t" transform="translate(200,256.2) scale(0.93,1)" text-anchor="middle">0.0</text>
<text class="t" transform="translate(260,256.2) scale(0.93,1)" text-anchor="middle">0.2</text>
<text class="t" transform="translate(320,256.2) scale(0.93,1)" text-anchor="middle">0.4</text>
<text class="lab" font-size="21.5" transform="translate(160.2,278) scale(1,0.96)" text-anchor="start">K<tspan dx="-1"> (</tspan><tspan class="m" font-size="21">π/a</tspan><tspan class="m" font-style="normal" style="font-style:normal" font-size="15.8" dy="4.0">0</tspan><tspan dy="-4.0">)</tspan></text>
<text class="lab" font-size="21.5" transform="translate(14.9,122) rotate(-90) scale(1,0.95)" text-anchor="middle">Energy (eV)</text>
</svg></body></html>
